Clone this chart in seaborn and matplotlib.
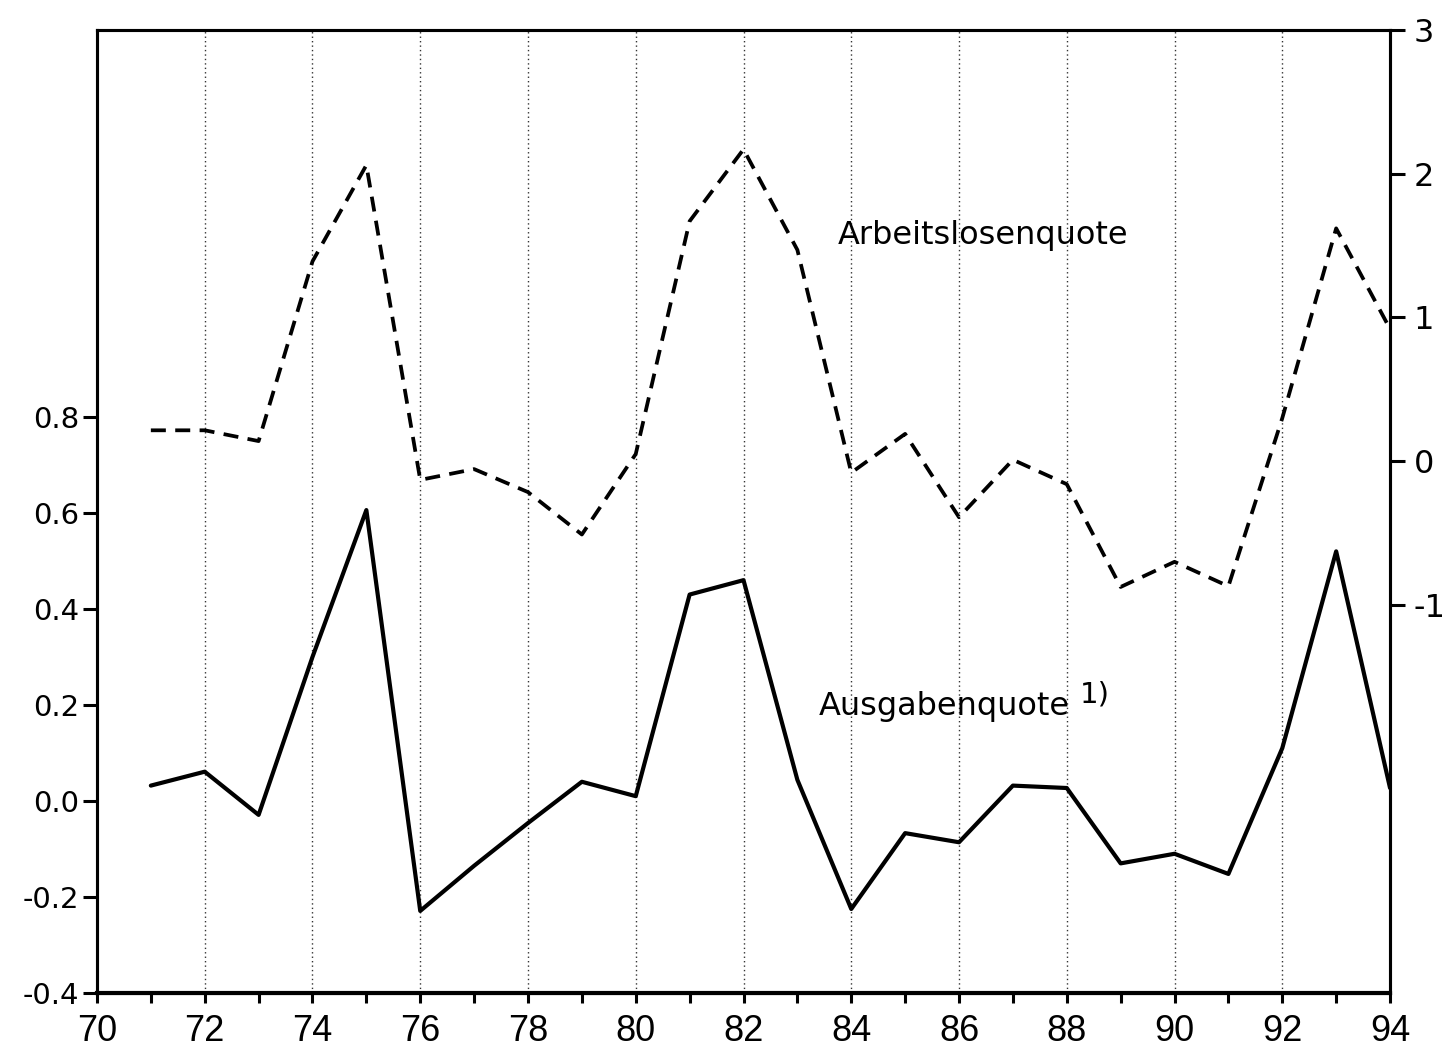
import matplotlib
matplotlib.use("Agg")
import matplotlib.pyplot as plt
import seaborn as sns
import pandas as pd
from matplotlib.ticker import MultipleLocator, FixedLocator

sns.set_style("ticks")
plt.rcParams['font.family'] = ['DejaVu Sans']
for k in ("text.color", "xtick.color", "ytick.color", "axes.labelcolor", "axes.edgecolor"):
    plt.rcParams[k] = "black"

years = list(range(71, 95))
ausgabenquote = [0.032, 0.061, -0.029, 0.30, 0.606, -0.229, -0.135, -0.046, 0.040, 0.010,
                 0.430, 0.460, 0.044, -0.225, -0.067, -0.086, 0.032, 0.027, -0.130, -0.110,
                 -0.152, 0.110, 0.520, 0.027]
arbeitslosenquote = [0.215, 0.215, 0.140, 1.39, 2.06, -0.13, -0.055, -0.215, -0.51, 0.05,
                     1.67, 2.17, 1.47, -0.08, 0.19, -0.39, 0.01, -0.16, -0.875, -0.70,
                     -0.87, 0.30, 1.62, 0.92]
left_ticks = [-0.4, -0.2, 0.0, 0.2, 0.4, 0.6, 0.8]
right_ticks = [-1, 0, 1, 2, 3]
x_major = list(range(70, 95, 2))

df = pd.DataFrame({"Jahr": years, "Ausgabenquote": ausgabenquote,
                   "Arbeitslosenquote": arbeitslosenquote})

fig = plt.figure(figsize=(14.43, 10.5), dpi=100)
ax = fig.add_axes([0.0672, 0.0543, 0.8961, 0.9171])
ax2 = ax.twinx()

sns.lineplot(data=df, x="Jahr", y="Ausgabenquote", ax=ax, color="black",
             linewidth=3.0, legend=False)
sns.lineplot(data=df, x="Jahr", y="Arbeitslosenquote", ax=ax2, color="black",
             linewidth=2.7, legend=False)
ax2.lines[0].set_dashes([4, 2.5])

ax.set_xlim(70, 94)
ax.set_ylim(-0.4, 1.606)
ax2.set_ylim(-3.7, 3.0)

ax.xaxis.set_major_locator(FixedLocator(x_major))
ax.xaxis.set_minor_locator(MultipleLocator(1))
ax.set_xticklabels([str(v) for v in x_major], fontfamily="Liberation Sans")
ax.yaxis.set_major_locator(FixedLocator(left_ticks))
ax.set_yticklabels([f"{v:.1f}" for v in left_ticks])
ax2.yaxis.set_major_locator(FixedLocator(right_ticks))
ax2.set_yticklabels([str(v) for v in right_ticks])

for v in x_major[1:-1]:
    ax.axvline(v, color="#333333", linestyle=(0, (1, 2.2)), linewidth=1.0, zorder=0)

ax.set_xlabel("")
ax.set_ylabel("")
ax2.set_ylabel("")

ax.tick_params(axis="x", which="major", direction="out", length=7, width=2.2,
               labelsize=26, pad=8)
ax.tick_params(axis="x", which="minor", direction="out", length=7, width=2.2)
ax.tick_params(axis="y", direction="out", length=10, width=2.2, labelsize=21, pad=3)
ax2.tick_params(axis="y", direction="out", length=11, width=2.2, labelsize=23, pad=6)

for a in (ax, ax2):
    for s in a.spines.values():
        s.set_visible(True)
        s.set_linewidth(2.2)
        s.set_color("black")
ax.spines["bottom"].set_linewidth(3)

ax2.text(83.74, 1.51, "Arbeitslosenquote", fontsize=23, ha="left", va="baseline")
ax.text(83.4, 0.179, "Ausgabenquote", fontsize=23, ha="left", va="baseline")
ax.text(88.25, 0.205, "1)", fontsize=21, ha="left", va="baseline")

fig.savefig("out.png", dpi=100)
